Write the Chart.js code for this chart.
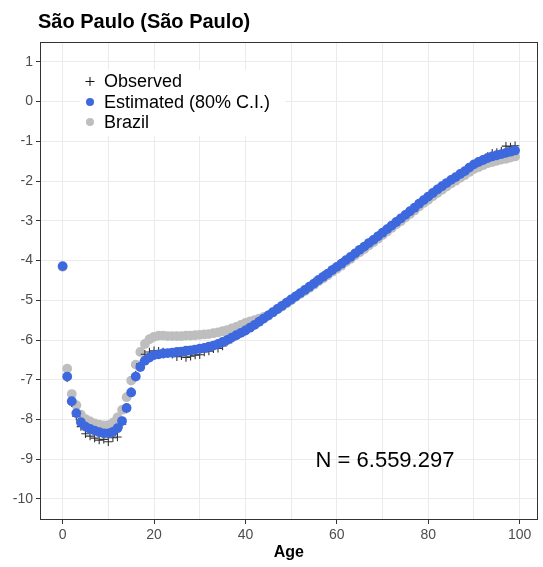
<!DOCTYPE html>
<html>
<head>
<meta charset="utf-8">
<title>São Paulo (São Paulo)</title>
<script src="https://cdn.jsdelivr.net/npm/chart.js@4/dist/chart.umd.min.js"></script>
<style>
  html, body { margin: 0; padding: 0; background: #fff; }
  #wrap { width: 543px; height: 567px; position: relative; }
</style>
</head>
<body>
<div id="wrap"><canvas id="chart"></canvas></div>
<script>
const titleText = 'São Paulo (São Paulo)';
const xLabel = 'Age';
const sampleNote = 'N = 6.559.297';
const legendLabels = ['Observed', 'Estimated (80% C.I.)', 'Brazil'];

// single years of age 0..99
const ages = [];
for (let i = 0; i < 100; i++) ages.push(i);

const observed = [
  -4.14, -6.95, -7.58, -7.92, -8.18, -8.36, -8.42, -8.47, -8.52, -8.50,
  -8.56, -8.46, -8.44, -8.12, -7.74, -7.30, -6.88, -6.60, -6.36, -6.30,
  -6.27, -6.28, -6.30, -6.33, -6.36, -6.42, -6.40, -6.44, -6.41, -6.38,
  -6.37, -6.30, -6.28, -6.22, -6.21, -6.15, -6.04, -5.98, -5.90, -5.83,
  -5.78, -5.68, -5.63, -5.52, -5.47, -5.37, -5.31, -5.20, -5.15, -5.04,
  -4.99, -4.88, -4.83, -4.72, -4.67, -4.54, -4.50, -4.37, -4.32, -4.21,
  -4.17, -4.05, -4.00, -3.89, -3.83, -3.72, -3.66, -3.55, -3.49, -3.37,
  -3.31, -3.20, -3.13, -3.02, -2.95, -2.84, -2.77, -2.66, -2.58, -2.47,
  -2.40, -2.29, -2.22, -2.12, -2.06, -1.96, -1.91, -1.81, -1.76, -1.65,
  -1.59, -1.50, -1.45, -1.38, -1.30, -1.28, -1.25, -1.12, -1.14, -1.11
];

const estimated = [
  -4.14, -6.92, -7.54, -7.84, -8.07, -8.18, -8.24, -8.28, -8.32, -8.35,
  -8.35, -8.31, -8.22, -8.04, -7.71, -7.32, -6.92, -6.68, -6.52, -6.44,
  -6.38, -6.36, -6.34, -6.33, -6.32, -6.30, -6.29, -6.27, -6.26, -6.24,
  -6.22, -6.20, -6.17, -6.14, -6.10, -6.05, -6.00, -5.94, -5.88, -5.82,
  -5.76, -5.69, -5.62, -5.54, -5.46, -5.38, -5.30, -5.22, -5.14, -5.06,
  -4.98, -4.90, -4.82, -4.74, -4.66, -4.58, -4.49, -4.41, -4.33, -4.24,
  -4.16, -4.08, -3.99, -3.91, -3.82, -3.73, -3.65, -3.56, -3.48, -3.39,
  -3.30, -3.21, -3.12, -3.03, -2.94, -2.85, -2.76, -2.67, -2.57, -2.48,
  -2.39, -2.30, -2.21, -2.13, -2.05, -1.97, -1.90, -1.82, -1.75, -1.66,
  -1.58, -1.52, -1.47, -1.42, -1.38, -1.35, -1.32, -1.29, -1.26, -1.23
];

const brazil = [
  -4.16, -6.72, -7.36, -7.64, -7.88, -7.99, -8.05, -8.10, -8.13, -8.15,
  -8.14, -8.08, -7.95, -7.76, -7.44, -7.02, -6.62, -6.30, -6.10, -5.98,
  -5.92, -5.89, -5.89, -5.90, -5.90, -5.90, -5.90, -5.89, -5.89, -5.88,
  -5.87, -5.86, -5.85, -5.83, -5.81, -5.78, -5.75, -5.71, -5.67, -5.62,
  -5.57, -5.53, -5.50, -5.46, -5.42, -5.39, -5.31, -5.23, -5.16, -5.08,
  -5.00, -4.92, -4.84, -4.77, -4.69, -4.61, -4.52, -4.45, -4.37, -4.28,
  -4.21, -4.13, -4.04, -3.96, -3.87, -3.79, -3.71, -3.62, -3.54, -3.45,
  -3.36, -3.27, -3.18, -3.09, -3.01, -2.92, -2.83, -2.74, -2.64, -2.55,
  -2.47, -2.38, -2.30, -2.22, -2.14, -2.06, -1.99, -1.92, -1.85, -1.77,
  -1.70, -1.65, -1.60, -1.55, -1.52, -1.49, -1.46, -1.44, -1.41, -1.38
];

const xTicks = [0, 10, 20, 30, 40, 50, 60, 70, 80, 90, 100];
const yTicks = [1, 0, -1, -2, -3, -4, -5, -6, -7, -8, -9, -10];

const blue = '#3d68de';
const grey = '#bebebe';
const cross = '#333333';
const font = "'Liberation Sans', Arial, Helvetica, sans-serif";

function points(ys) {
  return ages.map((a, i) => ({ x: a, y: ys[i] }));
}

// title, legend box, N note, axis title and panel border
const overlay = {
  id: 'overlay',
  afterDraw(chart) {
    const ctx = chart.ctx;
    const a = chart.chartArea;
    ctx.save();

    ctx.strokeStyle = '#333';
    ctx.lineWidth = 1;
    ctx.strokeRect(Math.round(a.left) + 0.5, Math.round(a.top) + 0.5,
      Math.round(a.width) - 1, Math.round(a.height) - 1);

    ctx.fillStyle = '#000';
    ctx.textAlign = 'left';
    ctx.textBaseline = 'alphabetic';
    ctx.font = 'bold 20px ' + font;
    ctx.fillText(titleText, 38, 28);

    // legend
    ctx.fillStyle = '#fff';
    ctx.fillRect(80, 70, 205, 66);
    const rows = [81, 102, 122];
    ctx.font = '18px ' + font;
    ctx.textBaseline = 'middle';
    legendLabels.forEach((label, i) => {
      const y = rows[i];
      if (i === 0) {
        ctx.strokeStyle = '#111';
        ctx.lineWidth = 1;
        ctx.beginPath();
        ctx.moveTo(85.5, y + 0.5); ctx.lineTo(94.5, y + 0.5);
        ctx.moveTo(90, y - 4); ctx.lineTo(90, y + 5);
        ctx.stroke();
      } else {
        ctx.fillStyle = i === 1 ? blue : grey;
        ctx.beginPath();
        ctx.arc(90, y, 4, 0, Math.PI * 2);
        ctx.fill();
      }
      ctx.fillStyle = '#000';
      ctx.fillText(label, 104, y + 1);
    });

    ctx.font = '22px ' + font;
    ctx.textAlign = 'center';
    ctx.fillText(sampleNote, 385, 461);

    ctx.font = 'bold 16px ' + font;
    ctx.fillText(xLabel, (a.left + a.right) / 2, 553);
    ctx.restore();
  }
};

new Chart(document.getElementById('chart'), {
  type: 'scatter',
  data: {
    datasets: [
      {
        label: legendLabels[1],
        data: points(estimated),
        pointStyle: 'circle',
        pointRadius: 4.9,
        pointBackgroundColor: blue,
        pointBorderWidth: 0
      },
      {
        label: legendLabels[0],
        data: points(observed),
        pointStyle: 'cross',
        pointRadius: 4.2,
        pointBorderColor: cross,
        pointBorderWidth: 1.1
      },
      {
        label: legendLabels[2],
        data: points(brazil),
        pointStyle: 'circle',
        pointRadius: 4.9,
        pointBackgroundColor: grey,
        pointBorderWidth: 0
      }
    ]
  },
  options: {
    responsive: true,
    maintainAspectRatio: false,
    animation: false,
    layout: { padding: { top: 42, right: 3, left: 0, bottom: 0 } },
    plugins: {
      legend: { display: false },
      tooltip: { enabled: false },
      title: { display: false }
    },
    scales: {
      x: {
        type: 'linear',
        min: -4.95,
        max: 103.95,
        afterBuildTicks: s => { s.ticks = xTicks.map(v => ({ value: v })); },
        afterFit: s => { s.height = 47; },
        border: { display: false },
        grid: {
          color: '#ebebeb',
          lineWidth: 1,
          tickLength: 4,
          tickColor: c => (c.tick && c.tick.value % 20 === 0) ? '#333' : 'rgba(0,0,0,0)'
        },
        ticks: {
          autoSkip: false,
          maxRotation: 0,
          padding: 3,
          color: '#4d4d4d',
          font: { family: font, size: 14 },
          callback: v => (v % 20 === 0 ? String(v) : '')
        }
      },
      y: {
        type: 'linear',
        min: -10.53,
        max: 1.5,
        afterBuildTicks: s => { s.ticks = yTicks.map(v => ({ value: v })); },
        afterFit: s => { s.width = 40; },
        border: { display: false },
        grid: {
          color: '#ebebeb',
          lineWidth: 1,
          tickLength: 4,
          tickColor: '#333'
        },
        ticks: {
          padding: 3,
          color: '#4d4d4d',
          font: { family: font, size: 14 },
          callback: v => String(v)
        }
      }
    }
  },
  plugins: [overlay]
});
</script>
</body>
</html>
